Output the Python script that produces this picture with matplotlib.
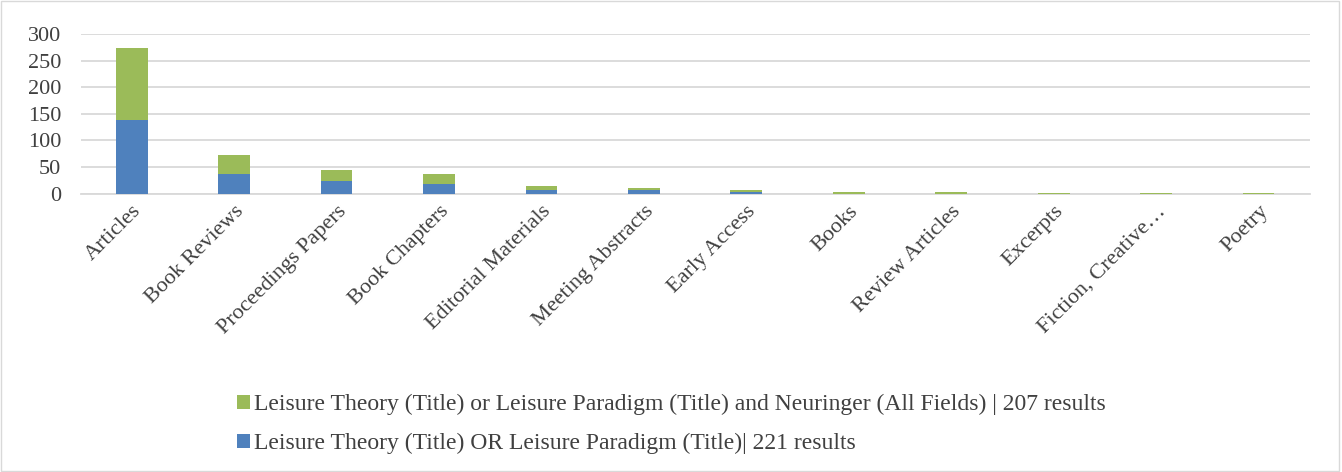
import matplotlib.pyplot as plt
import numpy as np
from matplotlib.patches import Rectangle

plt.rcParams['font.family'] = ['Liberation Serif', 'DejaVu Serif']

categories = ['Articles', 'Book Reviews', 'Proceedings Papers', 'Book Chapters',
              'Editorial Materials', 'Meeting Abstracts', 'Early Access', 'Books',
              'Review Articles', 'Excerpts', 'Fiction, Creative…', 'Poetry']
blue_vals = [138, 36, 23, 18, 7, 6, 3, 0, 0, 0, 0, 0]
green_vals = [135, 36, 22, 18, 7, 5, 3, 3, 2, 1, 1, 1]
blue_label = 'Leisure Theory (Title) OR Leisure Paradigm (Title)| 221 results'
green_label = 'Leisure Theory (Title) or Leisure Paradigm (Title) and Neuringer (All Fields) | 207 results'

blue = '#4F81BD'
green = '#9BBB59'

fig = plt.figure(figsize=(13.42, 4.72), dpi=100)
ax = fig.add_axes([0.060, 0.59, 0.916, 0.338])

x = np.arange(len(categories))
b1 = ax.bar(x, blue_vals, width=0.31, color=blue, label=blue_label, zorder=3)
b2 = ax.bar(x, green_vals, width=0.31, bottom=blue_vals, color=green,
            label=green_label, zorder=3)

ax.set_xlim(-0.5, len(categories) - 0.5)
ax.set_ylim(0, 300)
ax.set_yticks(range(0, 301, 50))
ax.yaxis.grid(True, color='#D9D9D9', linewidth=1.3)
ax.set_axisbelow(True)
for s in ['top', 'right', 'left']:
    ax.spines[s].set_visible(False)
ax.spines['bottom'].set_color('#D9D9D9')
ax.spines['bottom'].set_linewidth(1.3)
ax.tick_params(axis='both', length=0, labelsize=16, colors='#404040')
ax.tick_params(axis='y', pad=14)
ax.tick_params(axis='x', pad=6)
ax.set_xticks(x)
ax.set_xticklabels(categories, rotation=45, ha='right', rotation_mode='anchor')

fig.legend([b2, b1], [green_label, blue_label], loc='upper left',
           bbox_to_anchor=(0.161, 0.21), ncol=1, frameon=False, fontsize=17,
           handlelength=0.55, handleheight=0.55, handletextpad=0.15, labelspacing=0.75,
           labelcolor='#404040')

fig.patches.append(Rectangle((0.001, 0.002), 0.997, 0.995, transform=fig.transFigure,
                             fill=False, edgecolor='#D9D9D9', linewidth=1))

fig.savefig('out.png', dpi=100)
